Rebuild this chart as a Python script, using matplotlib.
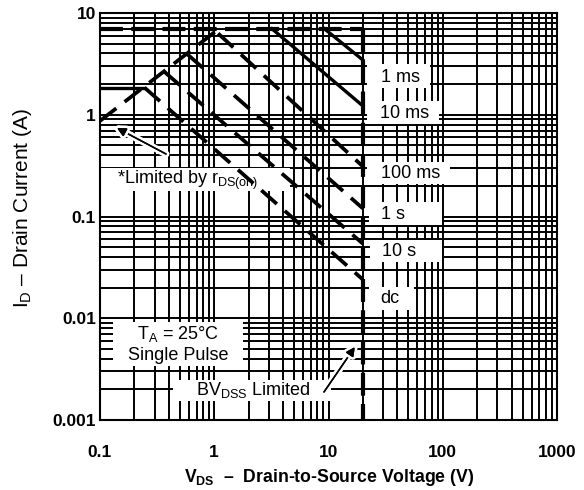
import matplotlib
matplotlib.use('Agg')
import matplotlib.pyplot as plt
import matplotlib.patheffects as pe
from matplotlib.patches import Rectangle
from matplotlib.ticker import LogLocator, FixedLocator, FixedFormatter, NullFormatter

plt.rcParams['font.family'] = ['Liberation Sans', 'DejaVu Sans']
plt.rcParams['mathtext.fontset'] = 'custom'
plt.rcParams['mathtext.rm'] = 'Liberation Sans'
plt.rcParams['mathtext.it'] = 'Liberation Sans:italic'
plt.rcParams['mathtext.bf'] = 'Liberation Sans:bold'

# ---------------- data ----------------
pulse_labels = ['1 ms', '10 ms', '100 ms', '1 s', '10 s', 'dc']

limit_current = 7.0      # A, pulsed drain current limit
bv_dss = 20.0            # V, breakdown voltage limit
i_min = 0.001

rds_v = [0.1, 1.1]
rds_i = [0.87, 7.0]

ms1_v = [9.2, 20.0]
ms1_i = [7.0, 3.45]
ms10_v = [3.2, 20.0]
ms10_i = [7.0, 1.22]
ms100_v = [1.08, 20.0]
ms100_i = [6.3, 0.31]
s1_v = [0.58, 20.0]
s1_i = [3.94, 0.12]
s10_v = [0.365, 20.0]
s10_i = [2.65, 0.054]
dc_flat_v = [0.1, 0.245]
dc_flat_i = [1.85, 1.85]
dc_v = [0.245, 20.0]
dc_i = [1.85, 0.024]

x_ticks = [0.1, 1, 10, 100, 1000]
x_tick_labels = ['0.1', '1', '10', '100', '1000']
y_ticks = [0.001, 0.01, 0.1, 1, 10]
y_tick_labels = ['0.001', '0.01', '0.1', '1', '10']

# ---------------- layout helpers (pixel -> axes fraction) ----------------
AX_L, AX_R, AX_T, AX_B = 100, 557, 13, 420


def fx(px):
    return (px - AX_L) / (AX_R - AX_L)


def fy(py):
    return (AX_B - py) / (AX_B - AX_T)


# label boxes: (text_left_px, text_center_y_px, box_x0, box_x1, box_y0, box_y1)
label_layout = [
    (381, 77, 367, 430, 64, 88),
    (380, 113, 367, 439, 101, 124),
    (381, 173, 367, 450, 162, 184),
    (381, 214, 369, 442, 202, 225),
    (382, 252, 370, 442, 240, 262),
    (380, 298, 369, 414, 287, 310),
]

# ---------------- figure ----------------
fig = plt.figure(figsize=(5.84, 4.9), dpi=100)
ax = fig.add_axes([AX_L/584, 1-AX_B/490, (AX_R-AX_L)/584, (AX_B-AX_T)/490])
ax.set_xscale('log')
ax.set_yscale('log')
ax.set_xlim(0.1, 1000)
ax.set_ylim(0.001, 10)

ax.xaxis.set_major_locator(FixedLocator(x_ticks))
ax.xaxis.set_major_formatter(FixedFormatter(x_tick_labels))
ax.yaxis.set_major_locator(FixedLocator(y_ticks))
ax.yaxis.set_major_formatter(FixedFormatter(y_tick_labels))
ax.xaxis.set_minor_locator(LogLocator(base=10, subs=range(2, 10), numticks=50))
ax.yaxis.set_minor_locator(LogLocator(base=10, subs=range(2, 10), numticks=50))
ax.xaxis.set_minor_formatter(NullFormatter())
ax.yaxis.set_minor_formatter(NullFormatter())

ax.set_axisbelow(True)
ax.grid(which='both', color='black', lw=1.4)
ax.tick_params(which='both', length=0)
ax.tick_params(axis='x', pad=18, labelsize=12.5)
ax.tick_params(axis='y', pad=3, labelsize=12.5)
for lab in ax.get_xticklabels() + ax.get_yticklabels():
    lab.set_fontweight('bold')
for s in ax.spines.values():
    s.set_linewidth(1.5)

thick_dash = (0, (5.5, 2))
diag_dash = (0, (5.5, 2.8))

# limits
ax.plot([0.1, bv_dss], [limit_current, limit_current], color='black', lw=3.0,
        ls=thick_dash, zorder=5, dash_capstyle='butt')
ax.plot([bv_dss, bv_dss], [limit_current, i_min], color='black', lw=3.0,
        ls=thick_dash, zorder=5, dash_capstyle='butt')
ax.plot(rds_v, rds_i, color='black', lw=2.7, ls=diag_dash, zorder=5)

# pulse lines
ax.plot(ms1_v, ms1_i, color='black', lw=2.4, zorder=5)
ax.plot(ms10_v, ms10_i, color='black', lw=2.4, zorder=5)
ax.plot(ms100_v, ms100_i, color='black', lw=2.7, ls=diag_dash, zorder=5)
ax.plot(s1_v, s1_i, color='black', lw=2.7, ls=diag_dash, zorder=5)
ax.plot(s10_v, s10_i, color='black', lw=2.7, ls=diag_dash, zorder=5)
ax.plot(dc_flat_v, dc_flat_i, color='black', lw=2.4, zorder=5)
ax.plot(dc_v, dc_i, color='black', lw=2.7, ls=diag_dash, zorder=5)


def white_box(x0, x1, y0, y1):
    ax.add_patch(Rectangle((fx(x0), fy(y1)), fx(x1) - fx(x0), fy(y0) - fy(y1),
                           transform=ax.transAxes, fc='white', ec='none',
                           zorder=2.5, clip_on=False))


for lab, (tx, ty, bx0, bx1, by0, by1) in zip(pulse_labels, label_layout):
    white_box(bx0, bx1, by0, by1)
    ax.text(fx(tx), fy(ty), lab, transform=ax.transAxes, fontsize=13,
            ha='left', va='center', zorder=3)

white_box(101, 290, 168, 191)
ax.text(fx(117), fy(180), '*Limited by r$_{\\mathrm{DS(on)}}$', transform=ax.transAxes,
        fontsize=13, ha='left', va='center', zorder=3)

white_box(113, 243, 322, 366)
ax.text(fx(178), fy(344), 'T$_{\\mathrm{A}}$ = 25°C\nSingle Pulse', transform=ax.transAxes,
        fontsize=13, ha='center', va='center', multialignment='center', zorder=3)

white_box(173, 331, 380, 401)
ax.text(fx(253), fy(390), 'BV$_{\\mathrm{DSS}}$ Limited', transform=ax.transAxes,
        fontsize=13, ha='center', va='center', zorder=3)

halo = [pe.withStroke(linewidth=5, foreground='white')]
a1 = ax.annotate('', xy=(fx(117), fy(128)), xycoords='axes fraction',
                 xytext=(fx(166), fy(154)), textcoords='axes fraction',
                 arrowprops=dict(arrowstyle='-|>', color='black', lw=1.1,
                                 mutation_scale=13, shrinkA=0, shrinkB=0), zorder=4)
a1.arrow_patch.set_path_effects(halo + [pe.Normal()])
a2 = ax.annotate('', xy=(17.0, fy(347)), xycoords=('data', 'axes fraction'),
                 xytext=(fx(324), fy(392)), textcoords='axes fraction',
                 arrowprops=dict(arrowstyle='-|>', color='black', lw=1.1,
                                 mutation_scale=13, shrinkA=0, shrinkB=0), zorder=4)
a2.arrow_patch.set_path_effects(halo + [pe.Normal()])

fig.text(329/584, 1-477/490, 'V$_{\\mathbf{DS}}$  –  Drain-to-Source Voltage (V)',
         fontsize=12.7, fontweight='bold', ha='center', va='center')
fig.text(23/584, 1-208/490, 'I$_{\\mathrm{D}}$ – Drain Current (A)',
         fontsize=15, rotation=90, ha='center', va='center')

fig.savefig('out.png', dpi=100)
